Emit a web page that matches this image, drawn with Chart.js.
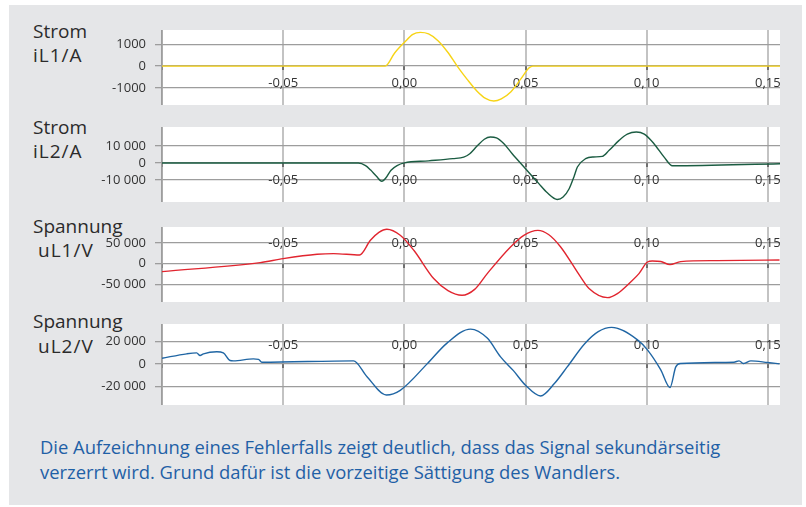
<!DOCTYPE html>
<html>
<head>
<meta charset="utf-8">
<script src="https://cdn.jsdelivr.net/npm/chart.js@4.4.1/dist/chart.umd.min.js"></script>
<style>
  body { margin: 0; width: 806px; height: 507px; overflow: hidden; position: relative; background: #fff; font-family: "Open Sans", sans-serif; }
  #bg { position: absolute; left: 9px; top: 5px; width: 793px; height: 500px; background: #e5e6e8; }
  .lbl { position: absolute; font-size: 19px; line-height: 19px; color: #2b2b2b; white-space: nowrap; }
  .unit { letter-spacing: 1px; }
  canvas { position: absolute; left: 100px; }
  #caption { position: absolute; left: 40px; top: 434px; font-size: 18.4px; line-height: 25px; color: #1f60a6; white-space: nowrap; }
</style>
</head>
<body>
<div id="bg"></div>

<div class="lbl" style="left:33px;top:22px">Strom</div>
<div class="lbl unit" style="left:33px;top:46px">iL1/A</div>
<div class="lbl" style="left:33px;top:118px">Strom</div>
<div class="lbl unit" style="left:33px;top:142px">iL2/A</div>
<div class="lbl" style="left:33px;top:217px">Spannung</div>
<div class="lbl unit" style="left:38px;top:241px">uL1/V</div>
<div class="lbl" style="left:33px;top:312px">Spannung</div>
<div class="lbl unit" style="left:38px;top:337px">uL2/V</div>

<canvas id="c1" width="690" height="75" style="top:30px"></canvas>
<canvas id="c2" width="690" height="75" style="top:127px"></canvas>
<canvas id="c3" width="690" height="75" style="top:227px"></canvas>
<canvas id="c4" width="690" height="81" style="top:324px"></canvas>

<div id="caption">Die Aufzeichnung eines Fehlerfalls zeigt deutlich, dass das Signal sekundärseitig<br>verzerrt wird. Grund dafür ist die vorzeitige Sättigung des Wandlers.</div>

<script>
// time axis (s)
const xTickValues = [-0.1, -0.05, 0, 0.05, 0.1, 0.15];
const xTickLabels = ["", "-0,05", "0,00", "0,05", "0,10", "0,15"];

// Strom iL1 / A
const iL1T = [-0.1, -0.0079, -0.004, 0, 0.0035, 0.0066, 0.010, 0.014, 0.018, 0.0218, 0.026, 0.030, 0.0335, 0.0369, 0.040, 0.044, 0.048, 0.0515, 0.053, 0.155];
const iL1V = [0, 0, 600, 1080, 1450, 1540, 1470, 1150, 620, 0, -620, -1150, -1480, -1600, -1500, -1170, -600, -80, 0, 0];
const iL1Ticks = [-1000, 0, 1000];
const iL1TickLabels = ["-1000", "0", "1000"];

// Strom iL2 / A
const iL2T = [-0.1, -0.019, -0.016, -0.014, -0.0115, -0.0093, -0.0075, -0.0055, -0.003, 0, 0.01, 0.02, 0.0245, 0.027, 0.030, 0.033, 0.0355, 0.038, 0.041, 0.0445, 0.05, 0.0555, 0.059, 0.0631, 0.0655, 0.068, 0.070, 0.0714, 0.0748, 0.078, 0.0817, 0.0845, 0.0886, 0.092, 0.0957, 0.099, 0.103, 0.1072, 0.1106, 0.155];
const iL2V = [0, 0, -1500, -4000, -7800, -10700, -8500, -4200, -1500, 100, 1300, 2600, 3500, 5500, 10000, 14000, 15300, 14800, 11500, 5500, -3300, -12100, -17500, -21400, -20000, -15100, -8000, -2350, 2600, 3600, 3950, 7500, 13350, 17000, 18250, 17000, 11400, 3500, -1600, -400];
const iL2Ticks = [-10000, 0, 10000];
const iL2TickLabels = ["-10 000", "0", "10 000"];

// Spannung uL1 / V
const uL1T = [-0.1, -0.0595, -0.05, -0.036, -0.0292, -0.0185, -0.014, -0.0105, -0.0072, -0.0017, 0.0039, 0.0121, 0.018, 0.0238, 0.029, 0.0342, 0.0438, 0.0493, 0.0551, 0.0595, 0.0645, 0.0727, 0.0762, 0.0838, 0.0879, 0.0934, 0.0968, 0.1003, 0.1023, 0.1058, 0.1096, 0.114, 0.1291, 0.1548];
const uL1V = [-19200, 2400, 12000, 22400, 24000, 20700, 56000, 75000, 82500, 68000, 32000, -36000, -65000, -76200, -62000, -24000, 40000, 68000, 80000, 70000, 40000, -32000, -60000, -81700, -72000, -44000, -24000, 3800, 6300, 5000, -2400, 4800, 7200, 8700];
const uL1Ticks = [-50000, 0, 50000];
const uL1TickLabels = ["-50 000", "0", "50 000"];

// Spannung uL2 / V
const uL2T = [-0.1, -0.0898, -0.0857, -0.0843, -0.0829, -0.0774, -0.0747, -0.0719, -0.0705, -0.0623, -0.0602, -0.0588, -0.021, -0.0154, -0.0074, -0.0017, 0.0094, 0.0176, 0.0273, 0.0342, 0.0397, 0.045, 0.05, 0.0562, 0.062, 0.0672, 0.0745, 0.080, 0.0855, 0.0962, 0.1003, 0.1058, 0.1096, 0.112, 0.114, 0.136, 0.1381, 0.14, 0.143, 0.1499, 0.1548];
const uL2V = [5000, 8900, 9700, 7400, 8900, 10700, 9700, 3000, 2700, 4400, 4000, 1500, 2700, -11300, -27500, -23400, 0, 18400, 30800, 22800, 6200, -6000, -18900, -28400, -17200, -2700, 18000, 28500, 32300, 21300, 12400, -5300, -20900, -2700, 300, 1500, 2700, 300, 2700, 1200, 0];
const uL2Ticks = [-20000, 0, 20000];
const uL2TickLabels = ["-20 000", "0", "20 000"];

const tickFont = { family: "Open Sans", size: 13 };

const whiteArea = {
  id: "whiteArea",
  beforeDraw(chart) {
    const a = chart.chartArea;
    chart.ctx.save();
    chart.ctx.fillStyle = "#ffffff";
    chart.ctx.fillRect(a.left, a.top, a.right - a.left, a.bottom - a.top);
    chart.ctx.restore();
  }
};

function makePanel(id, xs, ys, color, yMin, yMax, yTicks, yLabels, xPad) {
  const pts = xs.map((x, i) => ({ x: x, y: ys[i] }));
  return new Chart(document.getElementById(id), {
    type: "line",
    data: {
      datasets: [{
        data: pts,
        borderColor: color,
        borderWidth: 1.4,
        pointRadius: 0,
        fill: false,
        cubicInterpolationMode: "monotone"
      }]
    },
    options: {
      responsive: false,
      animation: false,
      events: [],
      layout: { padding: { left: 0, right: 10, top: 0, bottom: 0 } },
      plugins: { legend: { display: false }, tooltip: { enabled: false } },
      scales: {
        x: {
          type: "linear",
          min: -0.1,
          max: 0.155,
          position: { y: 0 },
          afterBuildTicks: (s) => { s.ticks = xTickValues.map((v) => ({ value: v })); },
          afterFit: (s) => { s.height = 0; s.paddingLeft = 0; s.paddingRight = 0; },
          grid: { color: "#c3c3c3", lineWidth: 2, tickColor: "#6f6f6f", tickLength: 4 },
          border: { display: false },
          ticks: {
            padding: xPad,
            color: "#333",
            font: tickFont,
            maxRotation: 0,
            autoSkip: false,
            callback: (v, i) => xTickLabels[i]
          }
        },
        y: {
          min: yMin,
          max: yMax,
          afterBuildTicks: (s) => { s.ticks = yTicks.map((v) => ({ value: v })); },
          afterFit: (s) => { s.width = 62; s.paddingTop = 0; s.paddingBottom = 0; },
          grid: { color: "#9d9d9d", lineWidth: 1.3, tickLength: 7 },
          border: { color: "#9d9d9d", width: 1.6 },
          ticks: {
            padding: 9,
            color: "#333",
            font: tickFont,
            callback: (v, i) => yLabels[i]
          }
        }
      }
    },
    plugins: [whiteArea]
  });
}

makePanel("c1", iL1T, iL1V, "#f7d416", -1780, 1650, iL1Ticks, iL1TickLabels, 5);
makePanel("c2", iL2T, iL2V, "#1b5c42", -22900, 21200, iL2Ticks, iL2TickLabels, 5);
makePanel("c3", uL1T, uL1V, "#e1252f", -92300, 88000, uL1Ticks, uL1TickLabels, -32);
makePanel("c4", uL2T, uL2V, "#2066a4", -36400, 35300, uL2Ticks, uL2TickLabels, -30);
</script>
</body>
</html>
